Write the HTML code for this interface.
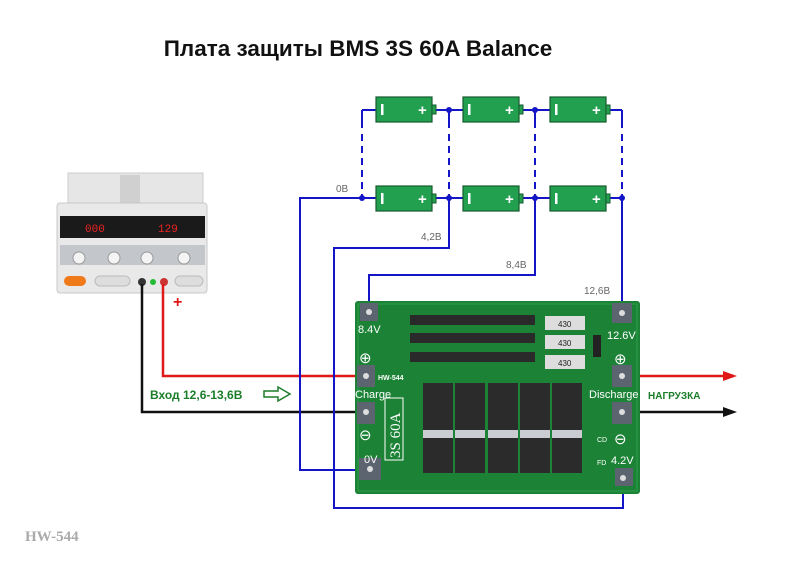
<!DOCTYPE html>
<html><head><meta charset="utf-8"><style>
body{margin:0;background:#fff;width:800px;height:566px;overflow:hidden}
svg{display:block}
</style></head><body>
<svg width="800" height="566" viewBox="0 0 800 566" xmlns="http://www.w3.org/2000/svg" font-family="Liberation Sans, sans-serif">
<text x="358" y="56" text-anchor="middle" font-size="22.5" font-weight="bold" fill="#111">Плата защиты BMS 3S 60A  Balance</text>

<!-- power supply -->
<g>
<rect x="68" y="173" width="135" height="35" fill="#e6e6e6" stroke="#ccc"/>
<rect x="120" y="175" width="20" height="28" fill="#d0d0d0"/>
<rect x="57" y="203" width="150" height="90" rx="3" fill="#e9e9ea" stroke="#c8c8c8"/>
<rect x="60" y="216" width="145" height="22" fill="#1a1a1a"/>
<text x="85" y="232" font-size="11" fill="#e22" font-family="Liberation Mono, monospace">000</text>
<text x="158" y="232" font-size="11" fill="#e22" font-family="Liberation Mono, monospace">129</text>
<rect x="60" y="245" width="145" height="20" fill="#c3c7cc"/>
<circle cx="79" cy="258" r="6" fill="#f4f4f4" stroke="#999"/>
<circle cx="114" cy="258" r="6" fill="#f4f4f4" stroke="#999"/>
<circle cx="147" cy="258" r="6" fill="#f4f4f4" stroke="#999"/>
<circle cx="184" cy="258" r="6" fill="#f4f4f4" stroke="#999"/>
<rect x="64" y="276" width="22" height="10" rx="5" fill="#f07a1a"/>
<rect x="95" y="276" width="35" height="10" rx="5" fill="#ddd" stroke="#bbb"/>
<rect x="175" y="276" width="28" height="10" rx="5" fill="#ddd" stroke="#bbb"/>
<circle cx="142" cy="282" r="4" fill="#333"/><circle cx="153" cy="282" r="3" fill="#2b3"/><circle cx="164" cy="282" r="4" fill="#c33"/>
</g>

<!-- wires -->
<g fill="none" stroke-width="2.5">
<polyline points="163,284 163,376 366,376" stroke="#e01818"/>
<polyline points="142,284 142,412 366,412" stroke="#111"/>
<line x1="624" y1="376" x2="725" y2="376" stroke="#e01818"/>
<line x1="624" y1="412" x2="725" y2="412" stroke="#111"/>
</g>
<polygon points="723,371 737,376 723,381" fill="#e01818"/>
<polygon points="723,407 737,412 723,417" fill="#111"/>
<text x="173" y="307" font-size="16" font-weight="bold" fill="#e01818">+</text>

<g fill="none" stroke="#1515c8" stroke-width="2">
<polyline points="362,198 300,198 300,470 370,470"/>
<polyline points="449,198 449,248 334,248 334,508 623,508 623,470"/>
<polyline points="535,198 535,275 369,275 369,312"/>
<line x1="622" y1="198" x2="622" y2="312"/>
<line x1="362" y1="198" x2="622" y2="198"/>
<line x1="362" y1="110" x2="622" y2="110"/>
<line x1="362" y1="110" x2="362" y2="128"/>
<line x1="622" y1="110" x2="622" y2="128"/>
<line x1="449" y1="110" x2="449" y2="128"/>
<line x1="535" y1="110" x2="535" y2="128"/>
<line x1="362" y1="134" x2="362" y2="198" stroke-dasharray="7,5"/>
<line x1="449" y1="134" x2="449" y2="198" stroke-dasharray="7,5"/>
<line x1="535" y1="134" x2="535" y2="198" stroke-dasharray="7,5"/>
<line x1="622" y1="134" x2="622" y2="198" stroke-dasharray="7,5"/>
</g>
<g fill="#1515c8">
<circle cx="449" cy="110" r="3"/><circle cx="535" cy="110" r="3"/>
<circle cx="362" cy="198" r="3"/><circle cx="449" cy="198" r="3"/><circle cx="535" cy="198" r="3"/><circle cx="622" cy="198" r="3"/>
</g>

<!-- batteries -->
<defs>
<g id="bat">
<rect x="0" y="0" width="56" height="25" fill="#22a050" stroke="#155a2c" stroke-width="1.2"/>
<rect x="56" y="8" width="4" height="9" fill="#22a050" stroke="#155a2c"/>
<rect x="5" y="7" width="2.5" height="11" fill="#fff"/>
<text x="42" y="18" font-size="15" font-weight="bold" fill="#fff">+</text>
</g>
</defs>
<use href="#bat" x="376" y="97"/><use href="#bat" x="463" y="97"/><use href="#bat" x="550" y="97"/>
<use href="#bat" x="376" y="186"/><use href="#bat" x="463" y="186"/><use href="#bat" x="550" y="186"/>

<g font-size="10" fill="#666">
<text x="336" y="192">0B</text>
<text x="421" y="240">4,2B</text>
<text x="506" y="268">8,4B</text>
<text x="584" y="294">12,6B</text>
</g>

<!-- board -->
<rect x="355" y="301" width="285" height="193" rx="3" fill="#1c8236"/>
<rect x="358" y="304" width="279" height="187" fill="none" stroke="#2aa04a" stroke-width="1"/>
<g fill="#5c6470">
<rect x="360" y="303" width="18" height="18"/><rect x="612" y="303" width="20" height="20"/>
<rect x="357" y="365" width="18" height="22"/><rect x="357" y="402" width="18" height="22"/>
<rect x="612" y="365" width="20" height="22"/><rect x="612" y="402" width="20" height="22"/>
<rect x="359" y="458" width="22" height="22"/><rect x="615" y="468" width="18" height="18"/>
</g>
<g fill="#ddd"><circle cx="369" cy="312" r="3"/><circle cx="622" cy="313" r="3"/><circle cx="366" cy="376" r="3"/><circle cx="366" cy="412" r="3"/><circle cx="622" cy="376" r="3"/><circle cx="622" cy="412" r="3"/><circle cx="370" cy="469" r="3"/><circle cx="623" cy="478" r="3"/></g>
<g fill="#2a2a2a">
<rect x="410" y="315" width="125" height="10"/><rect x="410" y="333" width="125" height="10"/><rect x="410" y="352" width="125" height="10"/>
</g>
<g fill="#ddd"><rect x="545" y="316" width="40" height="14"/><rect x="545" y="335" width="40" height="14"/><rect x="545" y="355" width="40" height="14"/></g>
<g fill="#222" font-size="8"><text x="558" y="327">430</text><text x="558" y="346">430</text><text x="558" y="366">430</text></g>
<rect x="593" y="335" width="8" height="22" fill="#222"/>
<g fill="#2b2b2b">
<rect x="423" y="383" width="30" height="52"/><rect x="455" y="383" width="30" height="52"/><rect x="488" y="383" width="30" height="52"/><rect x="520" y="383" width="30" height="52"/><rect x="552" y="383" width="30" height="52"/>
<rect x="423" y="438" width="30" height="35"/><rect x="455" y="438" width="30" height="35"/><rect x="488" y="438" width="30" height="35"/><rect x="520" y="438" width="30" height="35"/><rect x="552" y="438" width="30" height="35"/>
</g>
<g fill="#c9ccd0"><rect x="423" y="430" width="30" height="8"/><rect x="455" y="430" width="30" height="8"/><rect x="488" y="430" width="30" height="8"/><rect x="520" y="430" width="30" height="8"/><rect x="552" y="430" width="30" height="8"/></g>
<rect x="385" y="398" width="18" height="62" fill="none" stroke="#fff"/>
<text x="0" y="0" transform="translate(400,458) rotate(-90)" font-size="15" fill="#fff" font-family="Liberation Serif, serif">3S 60A</text>
<g fill="#fff" font-size="11">
<text x="358" y="333">8.4V</text>
<text x="607" y="339">12.6V</text>
<text x="355" y="398">Charge</text>
<text x="589" y="398">Discharge</text>
<text x="364" y="463">0V</text>
<text x="611" y="464">4.2V</text>
<text x="378" y="380" font-size="7" font-weight="bold">HW-544</text>
<text x="597" y="442" font-size="7">CD</text><text x="597" y="465" font-size="7">FD</text>
<text x="359" y="363" font-size="15">⊕</text><text x="614" y="364" font-size="15">⊕</text>
<text x="359" y="440" font-size="15">⊖</text><text x="614" y="444" font-size="15">⊖</text>
</g>

<text x="150" y="399" font-size="12" font-weight="bold" fill="#1b7d2a">Вход  12,6-13,6В</text>
<polygon points="264,391 278,391 278,387 290,394 278,401 278,397 264,397" fill="none" stroke="#1b7d2a" stroke-width="1.5"/>
<text x="648" y="399" font-size="10" font-weight="bold" fill="#1b7d2a">НАГРУЗКА</text>

<text x="25" y="541" font-size="15" font-weight="bold" fill="#aaa" font-family="Liberation Serif, serif">HW-544</text>
</svg>
</body></html>
